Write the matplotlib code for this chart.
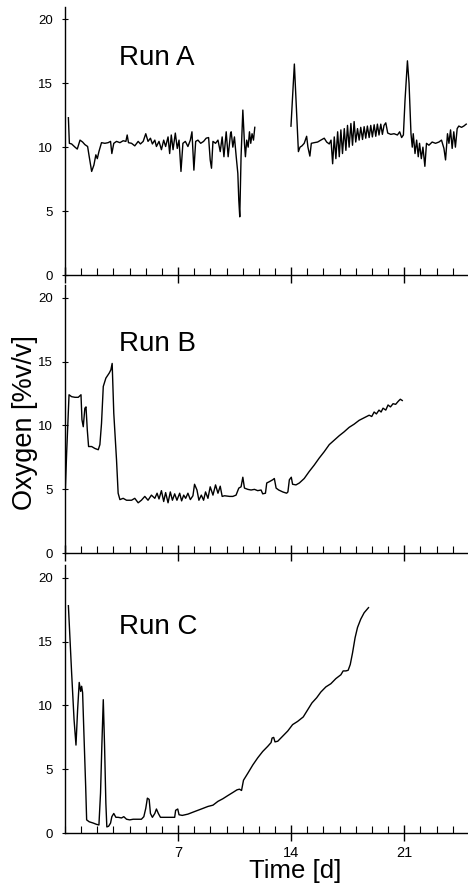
import numpy as np
import matplotlib
matplotlib.use("Agg")
import matplotlib.pyplot as plt
from matplotlib.ticker import MultipleLocator

plt.rcParams["font.family"] = ["Liberation Sans", "DejaVu Sans"]

# %% data (time in days, oxygen in %v/v)

# Run A, first stretch (before the gap)
day_a1 = [0.21, 0.27, 0.41, 0.62, 0.76, 0.93, 1.09, 1.23, 1.40, 1.50, 1.65, 1.79, 1.91, 2.00,
          2.10, 2.26, 2.47, 2.67, 2.82, 2.90, 3.02, 3.19, 3.40, 3.60, 3.77, 3.85, 3.93, 4.12,
          4.32, 4.53, 4.67, 4.84, 5.00, 5.14, 5.29, 5.41, 5.56, 5.66, 5.82, 5.97, 6.11, 6.23,
          6.38, 6.48, 6.58, 6.69, 6.83, 6.95, 7.06, 7.18, 7.30, 7.45, 7.61, 7.76, 7.86, 7.98,
          8.09, 8.23, 8.40, 8.58, 8.74, 8.89, 8.99, 9.07, 9.16, 9.32, 9.47, 9.61, 9.73, 9.84,
          9.98, 10.10, 10.25, 10.29, 10.39, 10.49, 10.60, 10.70, 10.76, 10.82, 10.90, 11.01,
          11.11, 11.17, 11.25, 11.34, 11.42, 11.50, 11.58, 11.67, 11.75]
o2_a1 = [12.3, 10.3, 10.25, 10.0, 9.85, 10.55, 10.4, 10.2, 10.05, 9.25, 8.1, 8.6, 9.4, 9.1,
         9.65, 10.35, 10.3, 10.35, 10.45, 9.5, 10.3, 10.45, 10.35, 10.5, 10.45, 10.95, 10.35, 10.3,
         10.1, 10.45, 10.25, 10.45, 11.05, 10.45, 10.7, 10.25, 10.55, 10.05, 10.45, 9.8, 10.55, 10.05,
         10.8, 9.5, 10.95, 9.8, 11.1, 9.9, 10.55, 8.1, 10.3, 10.45, 10.05, 10.55, 11.2, 8.2,
         10.45, 10.55, 10.3, 10.45, 10.7, 10.75, 9.0, 8.35, 10.45, 10.3, 10.55, 9.65, 10.8, 9.25,
         11.2, 9.25, 11.1, 11.2, 10.0, 10.8, 9.25, 7.95, 5.85, 4.55, 9.25, 12.9,
         10.3, 9.25, 10.55, 10.0, 11.2, 10.3, 11.05, 10.55, 11.55]

# Run A, second stretch (after the gap)
day_a2 = [13.99, 14.20, 14.45, 14.55, 14.67, 14.81, 14.96, 15.04, 15.16, 15.25, 15.43, 15.64,
          15.84, 16.05, 16.20, 16.36, 16.47, 16.57, 16.67, 16.77, 16.88, 16.98, 17.08, 17.18,
          17.29, 17.39, 17.49, 17.59, 17.70, 17.80, 17.90, 18.00, 18.11, 18.21, 18.31, 18.42,
          18.52, 18.62, 18.72, 18.83, 18.93, 19.03, 19.14, 19.24, 19.34, 19.44, 19.55, 19.65,
          19.75, 19.86, 19.98, 20.17, 20.37, 20.58, 20.72, 20.84, 20.95, 21.05, 21.20, 21.30,
          21.42, 21.50, 21.56, 21.67, 21.77, 21.87, 21.95, 22.06, 22.16, 22.28, 22.38, 22.53,
          22.73, 22.94, 23.15, 23.31, 23.46, 23.56, 23.68, 23.77, 23.87, 23.97, 24.07, 24.17,
          24.28, 24.38, 24.55, 24.69, 24.84]
o2_a2 = [11.64, 16.5, 9.65, 10.0, 10.1, 10.3, 10.85, 10.0, 9.3, 10.3, 10.35, 10.4,
         10.55, 10.7, 10.4, 10.25, 10.55, 8.7, 10.8, 9.1, 11.2, 9.25, 11.35, 9.5,
         11.45, 9.75, 11.7, 10.0, 11.85, 10.15, 12.0, 10.4, 11.45, 10.55, 11.55, 10.6,
         11.6, 10.7, 11.65, 10.75, 11.7, 10.8, 11.75, 10.85, 11.8, 10.95, 11.8, 11.0,
         11.7, 11.9, 11.1, 11.0, 11.05, 10.95, 11.2, 10.75, 10.95, 13.65, 16.75, 15.0,
         11.05, 10.0, 11.05, 9.5, 10.55, 9.25, 10.3, 9.1, 10.0, 8.5, 10.3, 10.15,
         10.4, 10.3, 10.4, 10.55, 9.9, 9.0, 11.05, 10.3, 11.35, 9.9, 11.2, 10.0,
         11.45, 11.65, 11.55, 11.65, 11.8]

# Run B
day_b = [0.0, 0.10, 0.25, 0.41, 0.62, 0.82, 0.99, 1.05, 1.13, 1.23, 1.30, 1.38, 1.46, 1.65,
         1.85, 2.06, 2.16, 2.26, 2.37, 2.53, 2.74, 2.84, 2.92, 3.02, 3.19, 3.29, 3.40, 3.60,
         3.81, 4.12, 4.32, 4.53, 4.73, 4.94, 5.14, 5.35, 5.56, 5.70, 5.82, 5.97, 6.11, 6.23,
         6.38, 6.52, 6.65, 6.79, 6.93, 7.10, 7.22, 7.35, 7.47, 7.61, 7.76, 7.92, 8.02, 8.17,
         8.29, 8.44, 8.58, 8.70, 8.85, 8.99, 9.16, 9.32, 9.47, 9.61, 9.73, 9.88, 10.19, 10.39,
         10.59, 10.76, 10.90, 11.01, 11.11, 11.32, 11.52, 11.73, 11.93, 12.14, 12.24, 12.41,
         12.49, 12.65, 12.86, 12.96, 13.07, 13.23, 13.48, 13.72, 13.80, 13.89, 14.01, 14.09,
         14.30, 14.51, 14.81, 15.12, 15.43, 15.74, 16.05, 16.36, 16.67, 16.98, 17.28, 17.59,
         17.90, 18.21, 18.52, 18.83, 18.99, 19.14, 19.28, 19.44, 19.57, 19.69, 19.86, 20.00,
         20.15, 20.31, 20.47, 20.64, 20.76, 20.88]
o2_b = [4.2, 7.8, 12.4, 12.25, 12.2, 12.2, 12.4, 10.45, 9.9, 11.35, 11.45, 9.65, 8.35, 8.35,
        8.2, 8.1, 8.5, 10.15, 13.05, 13.7, 14.1, 14.35, 14.85, 10.95, 7.3, 4.7, 4.2, 4.3,
        4.15, 4.15, 4.3, 3.95, 4.15, 4.45, 4.15, 4.55, 4.3, 4.7, 4.25, 4.9, 4.05, 4.75,
        3.95, 4.8, 4.15, 4.65, 4.15, 4.7, 4.1, 4.55, 4.3, 4.7, 4.2, 4.5, 5.4, 4.95,
        4.15, 4.55, 4.15, 4.8, 4.3, 5.2, 4.55, 5.35, 4.7, 5.25, 4.45, 4.5, 4.45, 4.45,
        4.55, 5.1, 5.2, 5.95, 5.1, 5.0, 4.95, 5.0, 4.9, 4.95, 4.65, 4.7,
        5.5, 5.6, 5.75, 5.85, 5.1, 4.95, 4.8, 4.7, 4.8, 5.75, 5.95, 5.4,
        5.35, 5.5, 5.85, 6.4, 6.9, 7.45, 7.95, 8.5, 8.85, 9.2, 9.5, 9.85,
        10.1, 10.4, 10.6, 10.8, 10.7, 11.05, 10.9, 11.2, 11.05, 11.35, 11.2, 11.6,
        11.45, 11.7, 11.65, 11.9, 12.05, 11.95]

# Run C
day_c = [0.21, 0.41, 0.56, 0.68, 0.78, 0.88, 0.97, 1.03, 1.09, 1.17, 1.28, 1.34, 1.50, 1.75,
         1.95, 2.10, 2.20, 2.28, 2.37, 2.45, 2.53, 2.59, 2.70, 2.82, 2.90, 3.02, 3.15, 3.29,
         3.50, 3.64, 3.81, 4.01, 4.22, 4.73, 4.88, 5.00, 5.10, 5.21, 5.29, 5.41, 5.56, 5.66,
         5.78, 5.91, 6.17, 6.48, 6.79, 6.85, 6.98, 7.06, 7.26, 7.61, 8.02, 8.44, 8.85, 9.16,
         9.47, 9.77, 10.08, 10.40, 10.65, 10.80, 10.93, 11.05, 11.32, 11.63, 11.93, 12.24,
         12.55, 12.76, 12.82, 12.92, 13.00, 13.17, 13.48, 13.79, 14.09, 14.40, 14.75, 15.02,
         15.29, 15.58, 15.84, 16.15, 16.46, 16.77, 17.08, 17.22, 17.39, 17.53, 17.66, 17.80,
         17.96, 18.11, 18.31, 18.52, 18.79]
o2_c = [17.8, 12.55, 8.9, 6.9, 9.65, 11.8, 11.1, 11.5, 11.0, 7.85, 3.65, 1.05, 0.9, 0.8,
        0.7, 0.65, 3.15, 6.8, 10.45, 6.8, 2.35, 0.5, 0.55, 0.8, 1.3, 1.55, 1.25, 1.25,
        1.2, 1.3, 1.1, 1.05, 1.1, 1.1, 1.3, 1.95, 2.75, 2.65, 1.55, 1.25, 1.55, 1.9,
        1.55, 1.25, 1.25, 1.25, 1.25, 1.8, 1.9, 1.45, 1.4, 1.5, 1.7, 1.9, 2.1, 2.2,
        2.5, 2.7, 2.95, 3.2, 3.4, 3.45, 3.35, 4.15, 4.7, 5.35, 5.9, 6.4,
        6.8, 7.1, 7.45, 7.5, 7.15, 7.2, 7.6, 8.0, 8.5, 8.75, 9.1, 9.65,
        10.2, 10.6, 11.05, 11.45, 11.7, 12.1, 12.4, 12.7, 12.7, 12.75, 13.2, 14.1,
        15.3, 16.1, 16.75, 17.25, 17.65]

run_names = ["Run A", "Run B", "Run C"]
run_label_y = [16.4, 15.8, 15.6]
x_labels = ["7", "14", "21"]


# %%
fig = plt.figure(figsize=(4.68, 8.84), dpi=100)

left, width = 65 / 468, 403 / 468
bottoms = [1 - 275 / 884, 1 - 553.3 / 884, 1 - 833.3 / 884]
height = 268.5 / 884

axes = [fig.add_axes([left, b, width, height]) for b in bottoms]

axes[0].plot(day_a1, o2_a1, color="k", lw=1.0)
axes[0].plot(day_a2, o2_a2, color="k", lw=1.0)
axes[1].plot(day_b, o2_b, color="k", lw=1.0)
axes[2].plot(day_c, o2_c, color="k", lw=1.0)

for ax, name, ty in zip(axes, run_names, run_label_y):
    ax.set_xlim(0, 24.95)
    ax.set_ylim(0, 21)
    ax.spines["top"].set_visible(False)
    ax.spines["right"].set_visible(False)
    ax.spines["left"].set_linewidth(1.0)
    ax.spines["bottom"].set_linewidth(1.0)
    ax.xaxis.set_major_locator(MultipleLocator(7))
    ax.xaxis.set_minor_locator(MultipleLocator(1))
    ax.yaxis.set_major_locator(MultipleLocator(5))
    ax.tick_params(axis="x", which="major", direction="inout", length=12, width=1.0,
                   labelsize=10.5, pad=3)
    ax.tick_params(axis="x", which="minor", direction="in", length=5, width=0.8)
    ax.tick_params(axis="y", which="major", direction="inout", length=5, width=0.8,
                   labelsize=9.5, pad=6)
    ax.set_xticklabels([])
    ax.text(3.34, ty, name, fontsize=20, ha="left", va="baseline")
    ax.patch.set_alpha(0)

axes[2].set_xticks([7, 14, 21])
axes[2].set_xticklabels(x_labels)

fig.text(25 / 468, 1 - 423 / 884, "Oxygen [%v/v]", rotation=90, fontsize=19.5,
         ha="center", va="center")
fig.text(295 / 468, 1 - 871 / 884, "Time [d]", fontsize=18.5, ha="center", va="center")

fig.savefig("out.png", dpi=100)
